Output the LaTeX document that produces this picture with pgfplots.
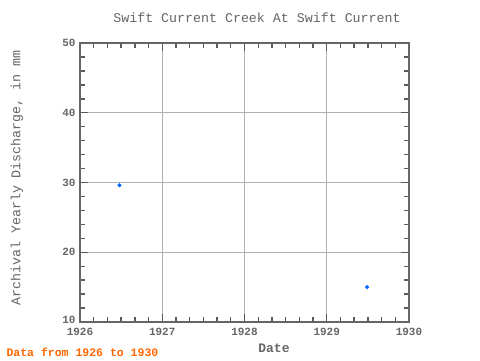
\documentclass[border=0pt]{standalone}
\usepackage{pgfplots}
\pgfplotsset{compat=1.18}
\usepackage{fontspec}
\setmainfont{Liberation Mono}
\definecolor{axgray}{HTML}{666666}
\definecolor{tickgray}{HTML}{5A5A5A}
\definecolor{gridgray}{HTML}{B0B0B0}
\definecolor{ptblue}{HTML}{0066FF}
\definecolor{orng}{HTML}{FF6600}
\begin{document}
\begin{tikzpicture}
\useasboundingbox[fill=white] (0pt,0pt) rectangle (480pt,360pt);
\begin{axis}[
  at={(80pt,38pt)}, anchor=south west,
  scale only axis, width=329pt, height=279pt,
  xmin=1926, xmax=1930, ymin=10, ymax=50,
  xtick={1926,1927,1928,1929,1930},
  xticklabels={1926,1927,1928,1929,1930},
  ytick={10,20,30,40,50},
  yticklabels={\raisebox{4pt}{10},20,30,40,\raisebox{-4pt}{50}},
  minor xtick={1926.1667,1926.3333,1926.5,1926.6667,1926.8333,
               1927.1667,1927.3333,1927.5,1927.6667,1927.8333,
               1928.1667,1928.3333,1928.5,1928.6667,1928.8333,
               1929.1667,1929.3333,1929.5,1929.6667,1929.8333},
  minor ytick={12,14,16,18,22,24,26,28,32,34,36,38,42,44,46,48},
  xmajorgrids, ymajorgrids,
  major grid style={gridgray, line width=0.7pt},
  axis line style={axgray, line width=1.6pt},
  tick style={tickgray, line width=1.4pt},
  major tick length=8pt, minor tick length=5pt,
  tick align=inside,
  xticklabel style={font=\bfseries\fontsize{11}{12}\selectfont, text=axgray, yshift=-3pt},
  yticklabel style={font=\bfseries\fontsize{11}{12}\selectfont, text=axgray, xshift=-1pt},
  /pgf/number format/assume math mode=true,
  /pgf/number format/1000 sep={},
  clip=false,
]
\addplot[only marks, mark=*, mark size=1.8pt, color=ptblue] coordinates {
  (1926.48, 29.6)
  (1929.49, 15.0)
};
\end{axis}
\node[text=axgray, font=\fontsize{13.3}{14}\selectfont] at (257pt,342pt) {Swift Current Creek At Swift Current};
\node[text=axgray, font=\bfseries\fontsize{13}{14}\selectfont] at (274pt,12pt) {Date};
\node[text=axgray, font=\fontsize{13.3}{14}\selectfont, rotate=90] at (17pt,182pt) {Archival Yearly Discharge, in mm};
\node[text=orng, font=\bfseries\fontsize{11.5}{12}\selectfont, anchor=west] at (3pt,8pt) {Data from 1926 to 1930};
\end{tikzpicture}
\end{document}
